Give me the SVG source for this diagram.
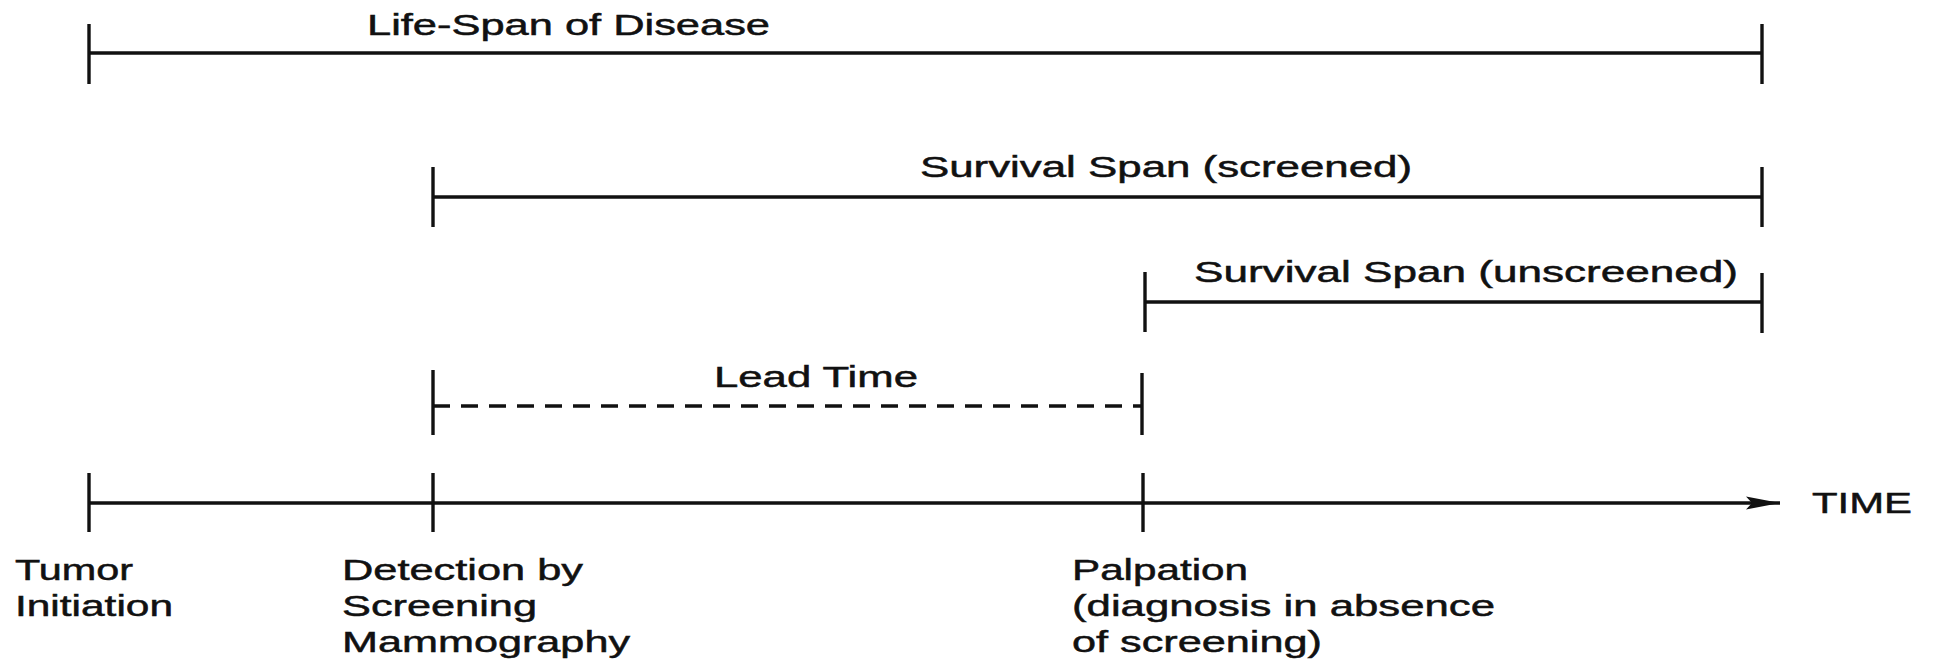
<svg xmlns="http://www.w3.org/2000/svg" width="1937" height="661" viewBox="0 0 1937 661">
<style>
.ln{stroke:#111;stroke-width:3.4;fill:none;stroke-linecap:butt}
.dash{stroke-dasharray:17 11}
.t{font-family:"Liberation Sans",Arial,Helvetica,sans-serif;font-size:30px;fill:#111;stroke:#111;stroke-width:0.5}
</style>
<defs>
<marker id="arr" markerWidth="36" markerHeight="16" refX="34" refY="8" orient="auto" markerUnits="userSpaceOnUse">
<path d="M0,1.5 L34,8 L0,14.5 L6,8 Z" fill="#111"/>
</marker>
</defs>
<rect width="1937" height="661" fill="#fff"/>
<g id="connectors">
<g id="life-span">
<line class="ln" x1="89" y1="53" x2="1762" y2="53"/>
<line class="ln" x1="89" y1="24" x2="89" y2="84"/>
<line class="ln" x1="1762" y1="24" x2="1762" y2="84"/>
</g>
<g id="survival-screened">
<line class="ln" x1="433" y1="197" x2="1762" y2="197"/>
<line class="ln" x1="433" y1="167" x2="433" y2="227"/>
<line class="ln" x1="1762" y1="167" x2="1762" y2="227"/>
</g>
<g id="survival-unscreened">
<line class="ln" x1="1145" y1="302" x2="1762" y2="302"/>
<line class="ln" x1="1145" y1="272" x2="1145" y2="332"/>
<line class="ln" x1="1762" y1="273" x2="1762" y2="333"/>
</g>
<g id="lead-time">
<line class="ln dash" x1="433" y1="406" x2="1142" y2="406"/>
<line class="ln" x1="433" y1="370" x2="433" y2="435"/>
<line class="ln" x1="1142" y1="373" x2="1142" y2="435"/>
</g>
<g id="time-axis">
<line class="ln" x1="89" y1="503" x2="1780" y2="503" marker-end="url(#arr)"/>
<line class="ln" x1="89" y1="473" x2="89" y2="532"/>
<line class="ln" x1="433" y1="473" x2="433" y2="532"/>
<line class="ln" x1="1143" y1="473" x2="1143" y2="532"/>
</g>
</g>
<g id="label-life-span"><text class="t" x="367" y="35" textLength="403" lengthAdjust="spacingAndGlyphs">Life-Span of Disease</text></g>
<g id="label-survival-screened"><text class="t" x="920" y="177" textLength="492" lengthAdjust="spacingAndGlyphs">Survival Span (screened)</text></g>
<g id="label-survival-unscreened"><text class="t" x="1194" y="282" textLength="544" lengthAdjust="spacingAndGlyphs">Survival Span (unscreened)</text></g>
<g id="label-lead-time"><text class="t" x="714" y="387" textLength="204" lengthAdjust="spacingAndGlyphs">Lead Time</text></g>
<g id="label-time"><text class="t" x="1812" y="513" textLength="100" lengthAdjust="spacingAndGlyphs">TIME</text></g>
<g id="node-tumor-initiation">
<text class="t" x="15" y="580" textLength="118" lengthAdjust="spacingAndGlyphs">Tumor</text>
<text class="t" x="15" y="616" textLength="158" lengthAdjust="spacingAndGlyphs">Initiation</text>
</g>
<g id="node-detection">
<text class="t" x="342" y="580" textLength="241" lengthAdjust="spacingAndGlyphs">Detection by</text>
<text class="t" x="342" y="616" textLength="195" lengthAdjust="spacingAndGlyphs">Screening</text>
<text class="t" x="342" y="652" textLength="288" lengthAdjust="spacingAndGlyphs">Mammography</text>
</g>
<g id="node-palpation">
<text class="t" x="1072" y="580" textLength="176" lengthAdjust="spacingAndGlyphs">Palpation</text>
<text class="t" x="1072" y="616" textLength="423" lengthAdjust="spacingAndGlyphs">(diagnosis in absence</text>
<text class="t" x="1072" y="652" textLength="250" lengthAdjust="spacingAndGlyphs">of screening)</text>
</g>
</svg>
